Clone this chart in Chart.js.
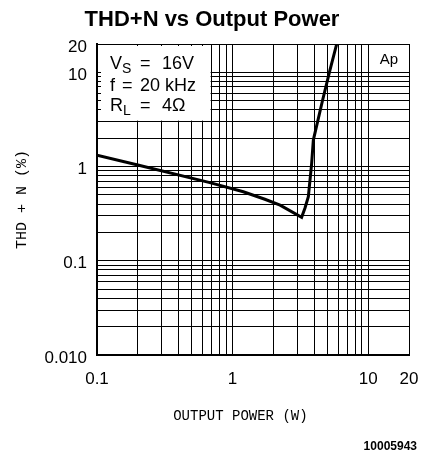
<!DOCTYPE html>
<html>
<head>
<meta charset="utf-8">
<script src="https://cdn.jsdelivr.net/npm/chart.js@4.4.0/dist/chart.umd.min.js"></script>
<style>
  html, body { margin: 0; padding: 0; background: #fff; }
  #wrap { width: 424px; height: 457px; }
</style>
</head>
<body>
<div id="wrap"><canvas id="myChart" width="424" height="457"></canvas></div>
<script>
// vykon (W) a THD+N (%)
var powerW = [0.1, 0.2, 0.68, 1.2, 1.73, 2.24, 3.23, 3.42, 3.62, 3.83, 3.94, 4.6, 5.23, 5.86];
var thdPct = [1.32, 1.04, 0.675, 0.54, 0.45, 0.39, 0.29, 0.364, 0.48, 1.08, 1.91, 5.0, 10.6, 20];

// mrizka a popisky os
var xTickValues = [0.1, 0.2, 0.3, 0.4, 0.5, 0.6, 0.7, 0.8, 0.9, 1, 2, 3, 4, 5, 6, 7, 8, 9, 10, 20];
var xTickLabels = ['0.1', '', '', '', '', '', '', '', '', '1', '', '', '', '', '', '', '', '', '10', '20'];
var yTickValues = [0.01, 0.02, 0.03, 0.04, 0.05, 0.06, 0.07, 0.08, 0.09,
                   0.1, 0.2, 0.3, 0.4, 0.5, 0.6, 0.7, 0.8, 0.9,
                   1, 2, 3, 4, 5, 6, 7, 8, 9, 10, 20];
var yTickLabels = ['0.010', '', '', '', '', '', '', '', '',
                   '0.1', '', '', '', '', '', '', '', '',
                   '1', '', '', '', '', '', '', '', '', '10', '20'];

var points = powerW.map(function (p, i) { return { x: p, y: thdPct[i] }; });

var sans = '"Liberation Sans", Arial, sans-serif';

// bily ramecek s podminkami mereni + dalsi texty
var notesPlugin = {
    id: 'notes',
    beforeDatasetsDraw: function (chart) {
        var ctx = chart.ctx;
        var x = chart.scales.x, y = chart.scales.y;
        var l = x.getPixelForValue(0.1) + 4;
        var r = x.getPixelForValue(0.7) - 1;
        var t = y.getPixelForValue(20) + 2;
        var b = y.getPixelForValue(3) - 1;
        ctx.save();
        ctx.fillStyle = '#fff';
        ctx.fillRect(l, t, r - l, b - t);
        ctx.restore();
    },
    afterDraw: function (chart) {
        var ctx = chart.ctx;
        var a = chart.chartArea;
        ctx.save();
        ctx.fillStyle = '#000';
        ctx.textBaseline = 'alphabetic';
        var big = '18px ' + sans;
        var sub = '14px ' + sans;
        var x0 = a.left + 13;
        var rows = [
            { main: 'V', sub: 'S', eq: a.left + 43, val: '16V', vx: a.left + 65, base: a.top + 25 },
            { main: 'f', sub: '', eq: a.left + 25, val: '20 kHz', vx: a.left + 43, base: a.top + 47 },
            { main: 'R', sub: 'L', eq: a.left + 43, val: '4\u03A9', vx: a.left + 65, base: a.top + 67 }
        ];
        rows.forEach(function (row) {
            ctx.textAlign = 'left';
            ctx.font = big;
            ctx.fillText(row.main, x0, row.base);
            var w = ctx.measureText(row.main).width;
            if (row.sub) {
                ctx.font = sub;
                ctx.fillText(row.sub, x0 + w, row.base + 4);
                ctx.font = big;
            }
            ctx.fillText('=', row.eq, row.base);
            ctx.fillText(row.val, row.vx, row.base);
        });
        ctx.font = '15px ' + sans;
        ctx.textAlign = 'right';
        ctx.fillText('Ap', a.right - 11, a.top + 20);
        ctx.font = 'bold 12px ' + sans;
        ctx.textBaseline = 'middle';
        ctx.fillText('10005943', 417, 447);
        ctx.restore();
    }
};

var ctx = document.getElementById('myChart').getContext('2d');
var myChart = new Chart(ctx, {
    type: 'line',
    data: {
        datasets: [{
            data: points,
            borderColor: '#000',
            borderWidth: 3,
            pointRadius: 0,
            tension: 0,
            fill: false
        }]
    },
    options: {
        responsive: false,
        animation: false,
        events: [],
        layout: { padding: 0 },
        plugins: {
            legend: { display: false },
            tooltip: { enabled: false },
            title: {
                display: true,
                text: 'THD+N vs Output Power',
                color: '#000',
                font: { family: sans, size: 22, weight: 'bold' },
                padding: { top: 7, bottom: 10.6 }
            }
        },
        scales: {
            x: {
                type: 'logarithmic',
                min: 0.1,
                max: 20,
                afterBuildTicks: function (s) {
                    s.ticks = xTickValues.map(function (v) { return { value: v }; });
                },
                afterFit: function (s) {
                    s.height = 102;
                    s.paddingLeft = 0;
                    s.paddingRight = 15;
                },
                ticks: {
                    autoSkip: false,
                    maxRotation: 0,
                    padding: 14,
                    color: '#000',
                    font: { family: sans, size: 17 },
                    callback: function (v, i) { return xTickLabels[i]; }
                },
                grid: { color: '#000', lineWidth: 1, drawTicks: false },
                border: { color: '#000', width: 2 },
                title: {
                    display: true,
                    // mezery na konci posunou popisek trochu doleva jako v predloze
                    text: 'OUTPUT POWER (W)   ',
                    color: '#000',
                    font: { family: '"Liberation Mono", monospace', size: 14 },
                    padding: { top: 0, bottom: 32 }
                }
            },
            y: {
                type: 'logarithmic',
                min: 0.01,
                max: 20,
                afterBuildTicks: function (s) {
                    s.ticks = yTickValues.map(function (v) { return { value: v }; });
                },
                afterFit: function (s) { s.width = 97; },
                ticks: {
                    autoSkip: false,
                    padding: 10,
                    labelOffset: 3,
                    color: '#000',
                    font: { family: sans, size: 17 },
                    callback: function (v, i) { return yTickLabels[i]; }
                },
                grid: { color: '#000', lineWidth: 1, drawTicks: false },
                border: { color: '#000', width: 2 },
                title: {
                    display: true,
                    text: 'THD + N (%)',
                    color: '#000',
                    font: { family: '"Liberation Mono", monospace', size: 15 },
                    padding: { top: 13, bottom: 0 }
                }
            }
        }
    },
    plugins: [notesPlugin]
});
</script>
</body>
</html>
